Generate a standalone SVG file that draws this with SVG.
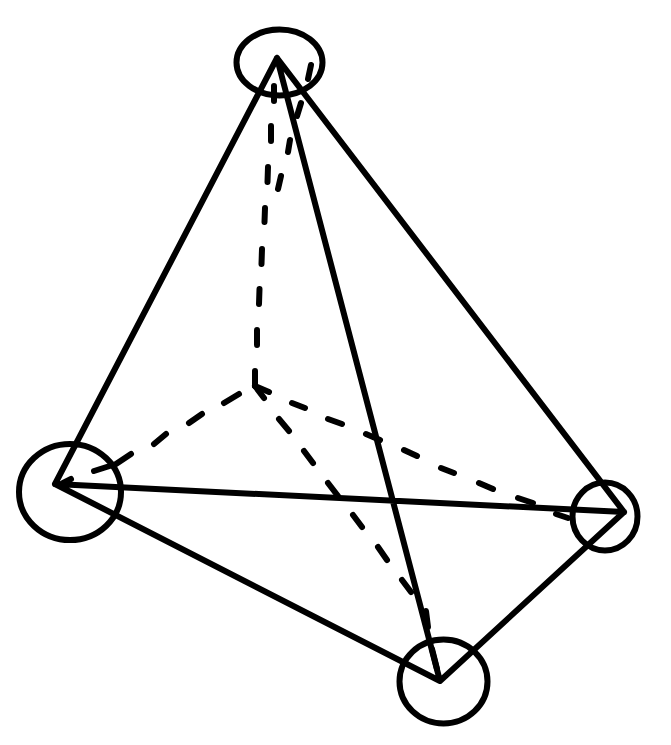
<svg xmlns="http://www.w3.org/2000/svg" width="671" height="745" viewBox="0 0 671 745">
<style>
.n{fill:none;stroke:#000;stroke-width:6}
.s{fill:none;stroke:#000;stroke-width:6;stroke-linecap:round;stroke-linejoin:round}
.d{fill:none;stroke:#000;stroke-width:6;stroke-linecap:round;stroke-linejoin:round}
</style>
<rect width="671" height="745" fill="#fff"/>
<g id="node-top"><ellipse class="n" cx="279.500" cy="62.500" rx="43" ry="33"/></g>
<g id="node-left"><ellipse class="n" cx="70" cy="492" rx="51" ry="48"/></g>
<g id="node-right"><ellipse class="n" cx="605" cy="516.500" rx="32.500" ry="34"/></g>
<g id="node-bottom"><ellipse class="n" cx="443.500" cy="681.500" rx="44" ry="42"/></g>
<g id="connectors">
<path class="s" d="M277 58L55 484M277 58L624 512M277 58L440 681M55 484L624 512M55 484L440 681L624 512"/>
<path class="d" d="M255 386L255 371M257 330L257 345M259.500 289L259 304M262 249L261.500 264M265 208L264.500 222M268 167L267.500 182M271 126L271 141M274 86L274 101"/>
<path class="d" d="M278 189L281 176M288 152L290 140M297 116L301 103M308 79L311 65"/>
<path class="d" d="M239 394L224 403M202 414L189 423M166 434L154 444M131 454L116 464L94 471M71 479L63 483"/>
<path class="d" d="M255 386L269 392M292 403L305 408M328 419L342 424M366 434L380 440M404 450L417 456M441 468L454 473M479 483L493 489M518 498L533 503M556 514L568 518"/>
<path class="d" d="M255 386L264 398M279 419L289 431M304 451L313 463M328 483L338 496M353 515L362 527M378 547L387 560M402 580L411 592M426 611L428 627M432 649L437 669"/>
</g>
</svg>
